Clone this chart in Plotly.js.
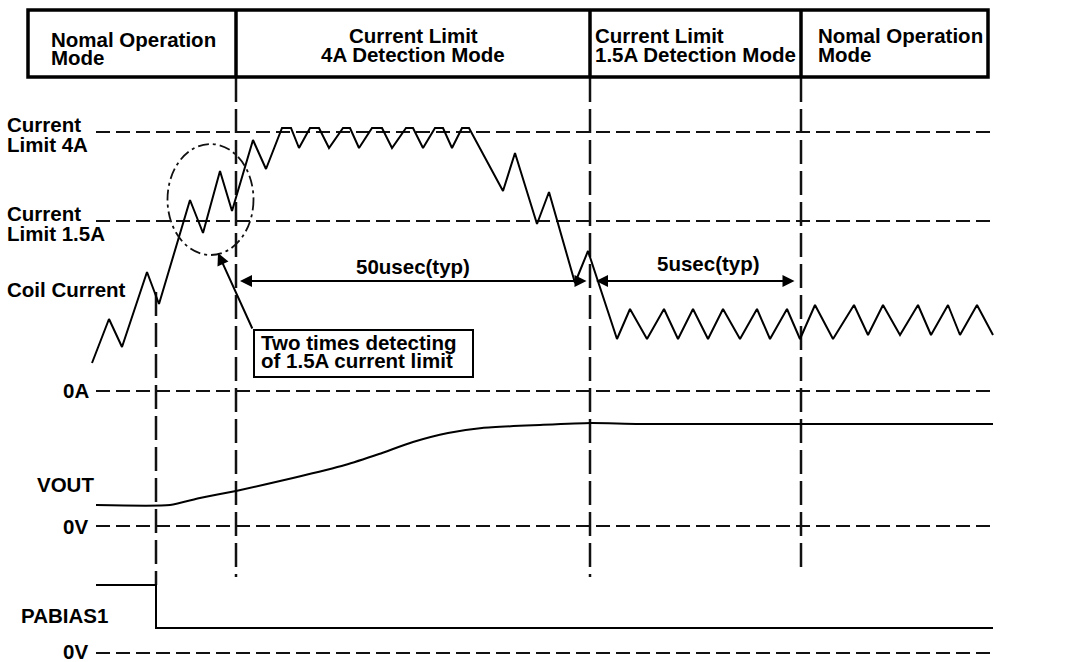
<!DOCTYPE html>
<html><head><meta charset="utf-8">
<script src="https://cdn.plot.ly/plotly-3.0.1.min.js"></script>
<style>html,body{margin:0;padding:0;background:#fff;}#chart{width:1066px;height:662px;}</style>
</head><body><div id="chart"></div>
<script>
// ---- Schematic timing data (time axis: arbitrary units; level axis: schematic units, grows downward) ----
const coilT = [92,109,122,147,159,190,203,220,232,253,266,282,291,299,310,319,329,343,350,359,372,382,392,406,413,423,435,443,452,462,469,503,515,537,549,575,588,617,630,647,664,678,693,708,723,740,757,770,787,800,815,833,854,868,883,900,918,931,948,960,977,993];
const coilLevel = [363,319,347,272,304,200,233,171,211,140,169,128,128,148,128,128,148,128,128,148,128,128,148,128,128,148,128,128,148,128,128,191,153,224,192,283,251,339,309,339,309,339,309,339,309,339,309,339,309,339,305,339,305,335,305,335,305,335,305,335,305,335];
const voutT = [96,170,200,236,293,345,379,413,448,482,540,591,640,993];
const voutLevel = [505,505,498,491,478,465,454,442,433,428,425,423,424,424];
const pabiasT = [96,156,156,993];
const pabiasLevel = [585,585,628,628];
const refLevels = [132,221,391,526,653];
const refSpan = [96,994];
const boundaryT = [156,236,590,801];
const boundaryTop = [292,78,78,78];
const boundaryBottom = [585,577,577,573];
const modeDividers = [236,590,801];
const modeBox = [28,10,988,77];
const ellipse = {cx:210.5, cy:199.5, rx:43, ry:55.5};
const span50 = [240,588], span5 = [596,796], spanLevel = 281;
const calloutTip = [218,253], calloutTail = [253,330];
const calloutBox = [254,330,473,377];

const F = 'Liberation Sans, Arial, Helvetica, sans-serif';
const FS = 20.5;
const traces = [];
// reference (dashed) levels
refLevels.forEach(l => traces.push({x: refSpan, y: [l,l], mode:'lines', line:{color:'#111', width:2, dash:'14px,6px'}, hoverinfo:'skip'}));
// mode boundaries
boundaryT.forEach((t,i) => traces.push({x:[t,t], y:[boundaryTop[i], boundaryBottom[i]], mode:'lines', line:{color:'#111', width:2.5, dash:'24px,7px'}, hoverinfo:'skip'}));
traces.push({x: coilT, y: coilLevel, mode:'lines', line:{color:'#000', width:2}, hoverinfo:'skip'});
traces.push({x: voutT, y: voutLevel, mode:'lines', line:{color:'#000', width:2, shape:'spline', smoothing:0.6}, hoverinfo:'skip'});
traces.push({x: pabiasT, y: pabiasLevel, mode:'lines', line:{color:'#000', width:2}, hoverinfo:'skip'});

function txt(text, x, y, anchor){
  return {x:x, y:y, xref:'x', yref:'y', text:'<b>'+text+'</b>', showarrow:false, xanchor:anchor, yanchor:'middle', borderpad:0, borderwidth:0, font:{family:F, size:FS, color:'#000'}};
}
const ann = [
  txt('Nomal Operation', 51, 39, 'left'), txt('Mode', 51, 57, 'left'),
  txt('Current Limit', 413, 35, 'center'), txt('4A Detection Mode', 413, 54, 'center'),
  txt('Current Limit', 595, 35, 'left'), txt('1.5A Detection Mode', 595, 54, 'left'),
  txt('Nomal Operation', 818, 35, 'left'), txt('Mode', 818, 54, 'left'),
  txt('Current', 7, 124, 'left'), txt('Limit 4A', 7, 144, 'left'),
  txt('Current', 7, 213, 'left'), txt('Limit 1.5A', 7, 233, 'left'),
  txt('Coil Current', 7, 289, 'left'),
  txt('0A', 89, 390, 'right'),
  txt('VOUT', 37, 484, 'left'),
  txt('0V', 88, 526, 'right'),
  txt('PABIAS1', 21, 615, 'left'),
  txt('0V', 88, 651, 'right'),
  txt('50usec(typ)', 413, 266, 'center'),
  txt('5usec(typ)', 708, 263, 'center'),
  txt('Two times detecting', 261, 342, 'left'),
  txt('of 1.5A current limit', 261, 360, 'left'),
  {x:span50[0], y:spanLevel, ax:span50[1], ay:spanLevel, xref:'x', yref:'y', axref:'x', ayref:'y', text:'', showarrow:true, arrowside:'end+start', arrowhead:2, startarrowhead:2, arrowsize:1.2, startarrowsize:1.2, arrowwidth:2, arrowcolor:'#000', standoff:0, startstandoff:0},
  {x:span5[0], y:spanLevel, ax:span5[1], ay:spanLevel, xref:'x', yref:'y', axref:'x', ayref:'y', text:'', showarrow:true, arrowside:'end+start', arrowhead:2, startarrowhead:2, arrowsize:1.2, startarrowsize:1.2, arrowwidth:2, arrowcolor:'#000', standoff:0, startstandoff:0},
  {x:calloutTip[0], y:calloutTip[1], ax:calloutTail[0], ay:calloutTail[1], xref:'x', yref:'y', axref:'x', ayref:'y', text:'', showarrow:true, arrowhead:2, arrowsize:1.2, arrowwidth:2, arrowcolor:'#000', standoff:0}
];

const shapes = [
  {type:'rect', xref:'x', yref:'y', x0:modeBox[0], y0:modeBox[1], x1:modeBox[2], y1:modeBox[3], line:{color:'#000', width:3.5}},
  ...modeDividers.map(d => ({type:'line', xref:'x', yref:'y', x0:d, x1:d, y0:modeBox[1], y1:modeBox[3], line:{color:'#000', width:3.5}})),
  {type:'circle', xref:'x', yref:'y', x0:ellipse.cx-ellipse.rx, x1:ellipse.cx+ellipse.rx, y0:ellipse.cy-ellipse.ry, y1:ellipse.cy+ellipse.ry, line:{color:'#111', width:1.8, dash:'11px,4px,3px,4px'}},
  {type:'rect', xref:'x', yref:'y', x0:calloutBox[0], y0:calloutBox[1], x1:calloutBox[2], y1:calloutBox[3], line:{color:'#000', width:2}, fillcolor:'rgba(0,0,0,0)'}
];

const layout = {
  width:1066, height:662, margin:{l:0,r:0,t:0,b:0},
  paper_bgcolor:'#fff', plot_bgcolor:'#fff', showlegend:false,
  xaxis:{range:[0,1066], visible:false, fixedrange:true},
  yaxis:{range:[662,0], visible:false, fixedrange:true},
  annotations: ann, shapes: shapes, hovermode:false
};
Plotly.newPlot('chart', traces, layout, {displayModeBar:false, staticPlot:true});
</script></body></html>
